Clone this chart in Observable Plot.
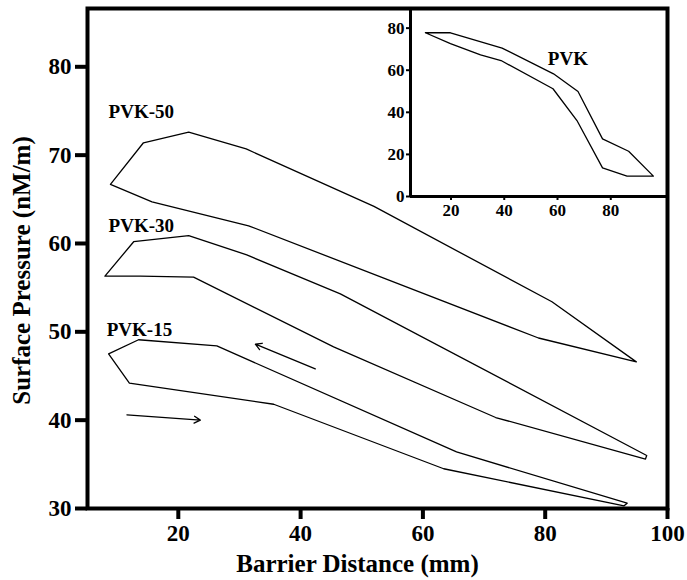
<!DOCTYPE html>
<html>
<head>
<meta charset="utf-8">
<script src="https://cdn.jsdelivr.net/npm/d3@7"></script>
<script src="https://cdn.jsdelivr.net/npm/@observablehq/plot@0.6"></script>
<style>
  html, body { margin: 0; padding: 0; background: #fff; }
  #wrap { position: relative; width: 687px; height: 580px; }
  #inset { position: absolute; left: 370px; top: 0px; }
</style>
</head>
<body>
<div id="wrap"><div id="main"></div><div id="inset"></div></div>
<script>
// Main chart data: closed hysteresis loops (barrier distance mm, surface pressure)
const pvk50X = [8.9, 14.3, 21.7, 31.1, 52.0, 81.1, 94.9, 78.9, 31.5, 15.7, 8.9];
const pvk50Y = [66.7, 71.4, 72.6, 70.7, 64.2, 53.4, 46.6, 49.3, 62.0, 64.7, 66.7];
const pvk30X = [8.0, 12.7, 21.7, 31.2, 46.5, 96.6, 96.4, 71.9, 45.4, 22.5, 13.8, 8.0];
const pvk30Y = [56.3, 60.2, 60.9, 58.7, 54.3, 36.0, 35.6, 40.3, 48.3, 56.2, 56.3, 56.3];
const pvk15X = [8.6, 13.5, 26.3, 65.5, 93.4, 92.9, 63.4, 35.6, 12.0, 8.6];
const pvk15Y = [47.5, 49.1, 48.4, 36.4, 30.6, 30.3, 34.5, 41.8, 44.2, 47.5];

const seriesNames = ["PVK-50", "PVK-30", "PVK-15"];
const labelX = [8.6, 8.6, 8.3];
const labelY = [74.9, 62.0, 50.2];

// Direction arrows
const arrowX1 = [42.4, 11.6];
const arrowY1 = [45.8, 40.6];
const arrowX2 = [32.6, 23.6];
const arrowY2 = [48.6, 40.0];

const xTicks = [20, 40, 60, 80, 100];
const yTicks = [30, 40, 50, 60, 70, 80];

// Inset data (PVK)
const pvkX = [10.4, 19.8, 39.2, 58.5, 67.7, 76.9, 86.7, 96.0, 86.1, 76.9, 67.3, 58.3, 38.8, 31.1, 19.8, 10.4];
const pvkY = [77.8, 77.8, 70.5, 58.3, 49.9, 27.4, 21.5, 9.7, 9.7, 13.6, 36.1, 51.2, 64.6, 67.3, 72.6, 77.8];
const insetXTicks = [20, 40, 60, 80];
const insetYTicks = [0, 20, 40, 60, 80];
const insetLabel = ["PVK"];
const insetLabelX = [63.9];
const insetLabelY = [65.4];

function rows(name, xs, ys) { return xs.map((x, i) => ({series: name, x, y: ys[i]})); }
const mainRows = [
  ...rows("PVK-50", pvk50X, pvk50Y),
  ...rows("PVK-30", pvk30X, pvk30Y),
  ...rows("PVK-15", pvk15X, pvk15Y)
];
const labelRows = seriesNames.map((s, i) => ({s, x: labelX[i], y: labelY[i]}));
const arrowRows = arrowX1.map((x1, i) => ({x1, y1: arrowY1[i], x2: arrowX2[i], y2: arrowY2[i]}));

const font = "'Liberation Serif', 'Times New Roman', serif";

const main = Plot.plot({
  width: 687,
  height: 580,
  marginLeft: 87,
  marginRight: 20,
  marginTop: 8,
  marginBottom: 72,
  style: {fontFamily: font, fontWeight: "bold", color: "#000", background: "transparent"},
  x: {domain: [5.15, 100]},
  y: {domain: [30, 86.6]},
  marks: [
    Plot.axisX({ticks: xTicks, tickSize: 11, tickPadding: 5, strokeWidth: 4, fontSize: 23, label: null}),
    Plot.axisY({ticks: yTicks, tickSize: 12, tickPadding: 4, strokeWidth: 4, fontSize: 23, label: null}),
    Plot.frame({strokeWidth: 4, stroke: "#000"}),
    Plot.line(mainRows, {x: "x", y: "y", z: "series", stroke: "#000", strokeWidth: 1.3, curve: "linear"}),
    Plot.arrow(arrowRows, {x1: "x1", y1: "y1", x2: "x2", y2: "y2", stroke: "#000", strokeWidth: 1.3, headLength: 8}),
    Plot.text(labelRows, {x: "x", y: "y", text: "s", textAnchor: "start", fontSize: 19, fontWeight: "bold", fill: "#000"}),
    Plot.text(["Surface Pressure (nM/m)"], {frameAnchor: "left", textAnchor: "middle", lineAnchor: "middle", dx: -66, dy: 12, rotate: -90, fontSize: 25, fontWeight: "bold", fill: "#000"}),
    Plot.text(["Barrier Distance (mm)"], {frameAnchor: "bottom", textAnchor: "middle", lineAnchor: "middle", dx: -20, dy: 55, fontSize: 25, fontWeight: "bold", fill: "#000"})
  ]
});
document.getElementById("main").appendChild(main);

const insetRows = rows("PVK", pvkX, pvkY);
const inset = Plot.plot({
  width: 317,
  height: 220,
  marginLeft: 40,
  marginRight: 20,
  marginTop: 7,
  marginBottom: 24,
  style: {fontFamily: font, fontWeight: "bold", color: "#000", background: "transparent"},
  x: {domain: [4.8, 101.3]},
  y: {domain: [0, 89.8]},
  marks: [
    Plot.axisX({ticks: insetXTicks, tickSize: 4, tickPadding: 3, strokeWidth: 2, fontSize: 17, label: null}),
    Plot.axisY({ticks: insetYTicks, tickSize: 4, tickPadding: 2, strokeWidth: 2, fontSize: 17, label: null}),
    Plot.ruleX([4.8], {stroke: "#000", strokeWidth: 3}),
    Plot.ruleY([0], {stroke: "#000", strokeWidth: 3}),
    Plot.line(insetRows, {x: "x", y: "y", stroke: "#000", strokeWidth: 1.3}),
    Plot.text(insetLabel, {x: insetLabelX, y: insetLabelY, text: d => d, fontSize: 19, fontWeight: "bold", fill: "#000"})
  ]
});
document.getElementById("inset").appendChild(inset);
</script>
</body>
</html>
